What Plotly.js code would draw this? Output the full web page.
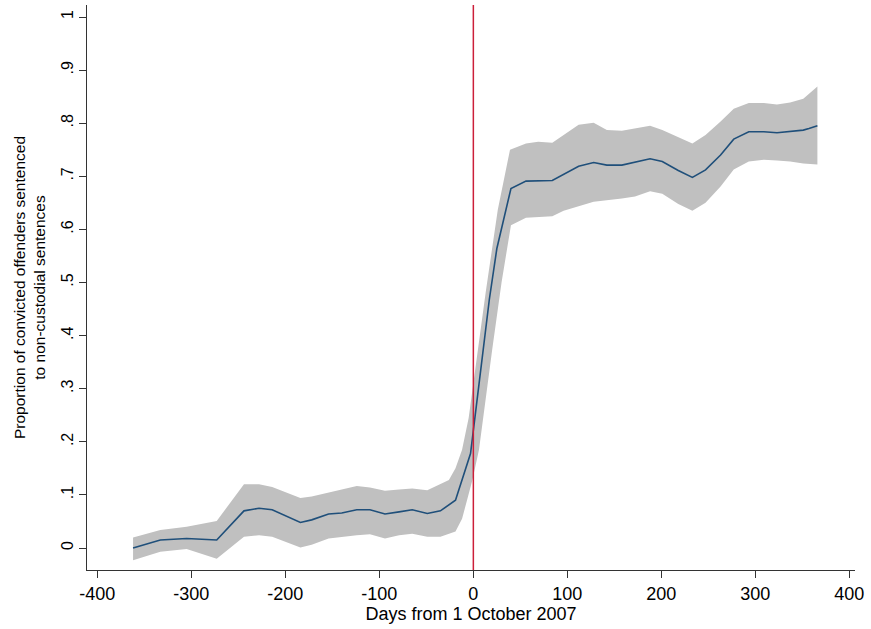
<!DOCTYPE html>
<html>
<head>
<meta charset="utf-8">
<script src="https://cdn.plot.ly/plotly-3.0.1.min.js"></script>
<style>html,body{margin:0;padding:0;background:#fff;}#chart{width:871px;height:629px;}</style>
</head>
<body>
<div id="chart"></div>
<script>
// Point estimate
const lineX = [-362,-333,-305,-273,-244,-228,-214,-184,-172,-154,-140,-124,-110,-94,-79,-65,-49,-35,-19,-12,-3,17,25,40,56,84,112,128,142,158,172,188,201,218,233,247,263,277,293,309,323,337,351,357,366];
const lineY = [0.000,0.015,0.018,0.015,0.070,0.075,0.072,0.048,0.053,0.064,0.066,0.072,0.072,0.064,0.068,0.072,0.065,0.070,0.090,0.128,0.178,0.468,0.564,0.677,0.691,0.692,0.719,0.726,0.721,0.721,0.726,0.733,0.728,0.711,0.698,0.712,0.740,0.770,0.784,0.784,0.782,0.784,0.787,0.790,0.795];
// Upper confidence bound
const upperX = [-362,-333,-305,-273,-244,-228,-214,-184,-172,-154,-124,-110,-94,-79,-65,-49,-35,-26,-19,-12,-5,0,13,26,39,56,69,84,112,128,142,158,172,188,201,218,233,247,263,277,293,309,323,337,351,366];
const upperY = [0.020,0.034,0.040,0.051,0.120,0.120,0.115,0.094,0.097,0.104,0.117,0.114,0.108,0.110,0.112,0.109,0.120,0.128,0.150,0.185,0.245,0.310,0.480,0.637,0.750,0.762,0.765,0.763,0.797,0.801,0.787,0.786,0.790,0.795,0.787,0.773,0.762,0.778,0.803,0.827,0.838,0.838,0.835,0.839,0.846,0.869];
// Lower confidence bound
const lowerX = [-362,-333,-305,-273,-244,-228,-214,-184,-172,-154,-124,-110,-94,-79,-65,-49,-35,-19,-12,-5,-1,6,20,30,40,56,84,96,112,128,158,172,188,201,218,233,247,263,277,293,309,323,337,351,366];
const lowerY = [-0.023,-0.007,-0.002,-0.020,0.021,0.024,0.021,0.001,0.006,0.018,0.024,0.026,0.018,0.024,0.027,0.021,0.021,0.031,0.055,0.103,0.128,0.185,0.373,0.500,0.608,0.622,0.625,0.635,0.643,0.652,0.658,0.662,0.672,0.667,0.648,0.635,0.650,0.681,0.713,0.728,0.731,0.730,0.728,0.724,0.722];

const xTickVals = [-400,-300,-200,-100,0,100,200,300,400];
const xTickText = ["-400","-300","-200","-100","0","100","200","300","400"];
const yTickVals = [0,0.1,0.2,0.3,0.4,0.5,0.6,0.7,0.8,0.9,1];
const yTickText = ["0",".1",".2",".3",".4",".5",".6",".7",".8",".9","1"];
const cutoffDay = 0;

const bandX = upperX.concat(lowerX.slice().reverse());
const bandY = upperY.concat(lowerY.slice().reverse());

const fam = "Liberation Sans, Arial, sans-serif";
const xFont = {family: fam, size: 18, color: "#000"};
const yTickFont = {family: fam, size: 16, color: "#000"};
const yTitleFont = {family: fam, size: 15.5, color: "#000"};

const traces = [
  {x: bandX, y: bandY, type: "scatter", mode: "lines", fill: "toself",
   fillcolor: "#c0c0c0", line: {width: 0, color: "#c0c0c0"}, hoverinfo: "skip", showlegend: false},
  {x: lineX, y: lineY, type: "scatter", mode: "lines",
   line: {color: "#1f4f7a", width: 1.6}, showlegend: false}
];

const layout = {
  width: 871, height: 629,
  margin: {l: 87, r: 16, t: 5, b: 59},
  paper_bgcolor: "#fff", plot_bgcolor: "#fff",
  font: xFont,
  showlegend: false,
  xaxis: {
    range: [-411, 406], tickvals: xTickVals, ticktext: xTickText,
    ticks: "outside", ticklen: 7, tickcolor: "#333", tickwidth: 1,
    showline: true, linecolor: "#333", linewidth: 1, showgrid: false, zeroline: false,
    tickfont: xFont,
    title: {text: "Days from 1 October 2007", font: xFont, standoff: 0}
  },
  yaxis: {
    range: [-0.0414, 1.0226], tickvals: yTickVals, ticktext: yTickText,
    tickangle: -90,
    ticks: "outside", ticklen: 7, tickcolor: "#333", tickwidth: 1,
    showline: true, linecolor: "#333", linewidth: 1, showgrid: false, zeroline: false,
    tickfont: yTickFont,
    title: {text: "Proportion of convicted offenders sentenced<br>to non-custodial sentences", font: yTitleFont, standoff: 9}
  },
  shapes: [
    {type: "line", xref: "x", yref: "paper", x0: cutoffDay, x1: cutoffDay, y0: 0, y1: 1,
     line: {color: "#cc1f3a", width: 1.5}}
  ]
};

Plotly.newPlot("chart", traces, layout, {displayModeBar: false, staticPlot: true});
</script>
</body>
</html>
